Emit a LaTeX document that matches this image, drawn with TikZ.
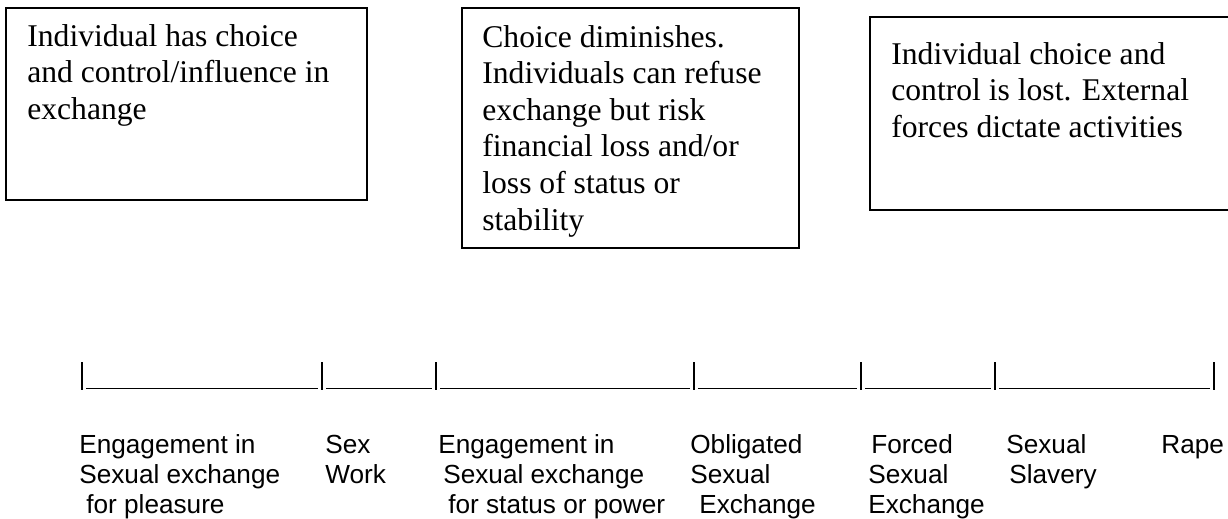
\documentclass[tikz,border=0pt]{standalone}
\usepackage{fontspec}
\setmainfont{Liberation Serif}
\newfontfamily\labelfont{Liberation Sans}
\usetikzlibrary{positioning}
\newcommand{\labelstrut}{\rule{0pt}{11.5pt}}
\tikzset{
    panel/.style={rectangle, draw=black, line width=1pt, anchor=north west, inner sep=0pt},
    paneltext/.style={anchor=north west, inner sep=0pt, align=left, font=\fontsize{18}{20.8}\selectfont},
    scalelabel/.style={anchor=north west, inner sep=0pt, align=left, font=\labelfont\fontsize{14.9}{17.07}\selectfont},
    scalebar/.style={line width=1.1pt}
}

\begin{document}
\begin{tikzpicture}[x=0.02cm, y=-0.02cm]
    \useasboundingbox (0,0) rectangle (1228,518);
    \clip (0,0) rectangle (1228,518);

    % Boxes
    \node[panel, minimum width=7.22cm, minimum height=3.84cm] (choicebox) at (5,7) {};
    \node[panel, minimum width=6.74cm, minimum height=4.8cm] (diminishbox) at (461,7) {};
    \node[panel, minimum width=7.8cm, minimum height=3.86cm] (lostbox) at (869,16) {};

    \node[paneltext] (choicetext) at (27,24) {Individual has choice\\and control/influence in\\exchange};
    \node[paneltext] (diminishtext) at (482,25) {Choice diminishes.\\Individuals can refuse\\exchange but risk\\financial loss and/or\\loss of status or\\stability};
    \node[paneltext] (losttext) at (891,42) {Individual choice and\\control is lost. External\\forces dictate activities};

    % Scale
    \foreach \x in {82, 322, 436, 694, 861, 995, 1214} {
        \draw[scalebar] (\x,362) -- (\x,390);
    }
    \foreach \a/\b in {82/322, 322/436, 436/694, 694/861, 861/995, 995/1214} {
        \draw[scalebar] (\a+4,388.5) -- (\b-4,388.5);
    }

    % Labels
    \node[scalelabel] (pleasure) at (79,433) {\labelstrut Engagement in\\Sexual exchange\\\hspace*{0.14cm}for pleasure};
    \node[scalelabel] (sexwork) at (325,433) {\labelstrut Sex\\Work};
    \node[scalelabel] (status) at (438,433) {\labelstrut Engagement in\\\hspace*{0.1cm}Sexual exchange\\\hspace*{0.2cm}for status or power};
    \node[scalelabel] (obligated) at (690,433) {\labelstrut Obligated\\Sexual\\\hspace*{0.18cm}Exchange};
    \node[scalelabel] (forced) at (868,433) {\labelstrut\hspace*{0.06cm}Forced\\Sexual\\Exchange};
    \node[scalelabel] (slavery) at (1006,433) {\labelstrut Sexual\\\hspace*{0.06cm}Slavery};
    \node[scalelabel] (rape) at (1161,433) {\labelstrut Rape};
\end{tikzpicture}
\end{document}
